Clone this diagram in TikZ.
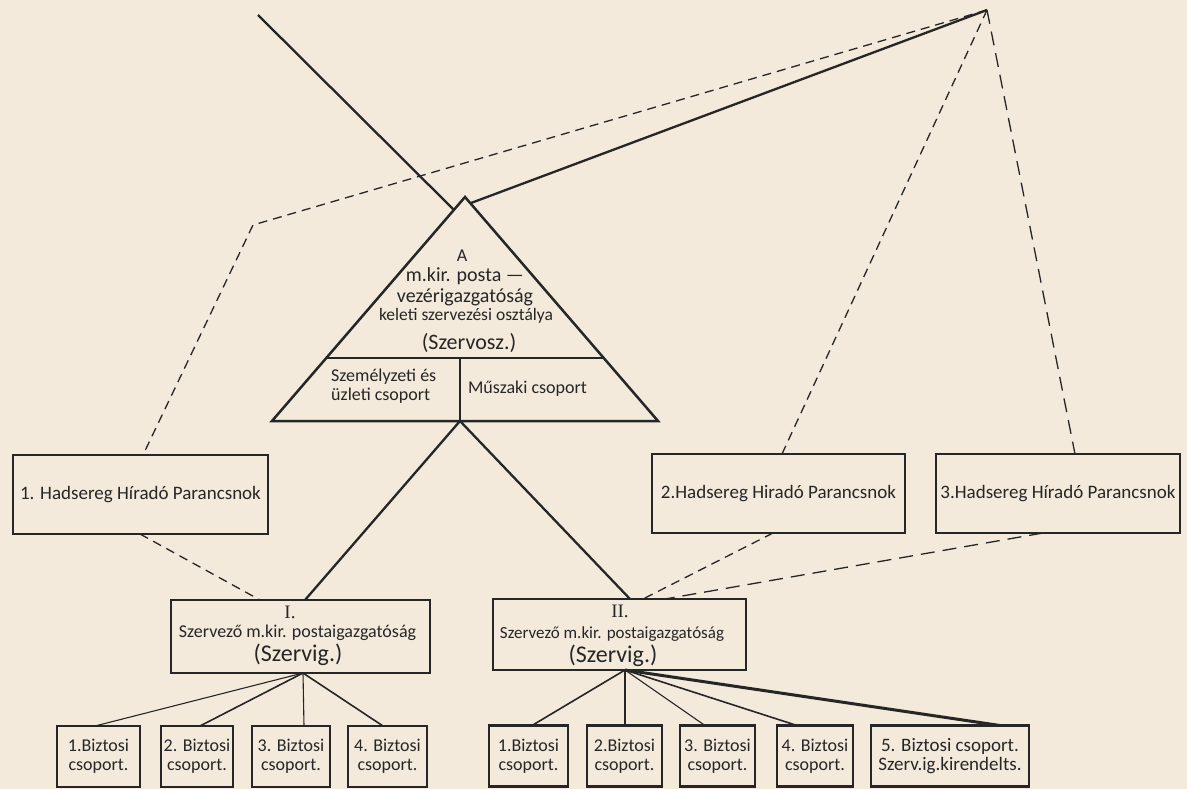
\documentclass[tikz,border=0pt]{standalone}
\usepackage{fontspec}
\setmainfont{Carlito}
\newfontfamily\romfont{Liberation Serif}
\usetikzlibrary{calc}
\definecolor{paper}{HTML}{F3EADC}
\definecolor{ink}{HTML}{262626}
\begin{document}
\begin{tikzpicture}[x=1pt,y=-1pt,
  box/.style={draw=ink, line width=2.6pt, inner sep=0pt, outer sep=0pt, text=ink},
  hq/.style={box, minimum height=79pt, font=\fontsize{19}{22}\selectfont},
  szbox/.style={box},
  kid/.style={box, line width=2.4pt, minimum height=61pt, align=center, font=\fontsize{18}{19}\selectfont},
  tri/.style={draw=ink, line width=2.5pt, line join=miter},
  solidline/.style={draw=ink, line width=2.3pt},
  medline/.style={draw=ink, line width=1.6pt},
  thinline/.style={draw=ink, line width=1.1pt},
  thickline/.style={draw=ink, line width=3pt},
  dashline/.style={draw=ink, line width=1.3pt, dash pattern=on 9pt off 6pt},
  longdash/.style={draw=ink, line width=1.3pt, dash pattern=on 14pt off 8pt},
  lbl/.style={text=ink, inner sep=0pt, anchor=base}
]
\fill[paper] (0,0) rectangle (1187,789);
\useasboundingbox (0,0) rectangle (1187,789);

% ---- top-level triangle
\coordinate (Ta) at (465,197);
\coordinate (Tl) at (272,421);
\coordinate (Tr) at (658,421);
\coordinate (Dl) at ($(Ta)!0.71875!(Tl)$);
\coordinate (Dr) at ($(Ta)!0.71875!(Tr)$);
\coordinate (Dm) at (460,358);
\coordinate (Tb) at (460,421);
\draw[tri] (Ta) -- (Tl) -- (Tr) -- cycle;
\draw[tri] (Dl) -- (Dr);
\draw[tri] (Dm) -- (Tb);

\node[lbl, font=\fontsize{18}{18}\selectfont] (tA) at (462,261) {A};
\node[lbl, font=\fontsize{20}{20}\selectfont] (tm) at (465,281) {m.kir. posta —};
\node[lbl, font=\fontsize{20}{20}\selectfont] (tv) at (465,302) {vezérigazgatóság};
\node[lbl, font=\fontsize{17.5}{18}\selectfont] (tk) at (466,320) {keleti szervezési osztálya};
\node[lbl, font=\fontsize{22}{22}\selectfont] (ts) at (469,349) {(Szervosz.)};
\node[lbl, anchor=base west, font=\fontsize{18}{18}\selectfont] (tsz1) at (331,381) {Személyzeti és};
\node[lbl, anchor=base west, font=\fontsize{18}{18}\selectfont] (tsz2) at (331,400) {üzleti csoport};
\node[lbl, font=\fontsize{18}{18}\selectfont] (tmu) at (527.5,393) {Műszaki csoport};

% ---- army signal commands
\node[hq, minimum width=255pt] (h1) at (140.5,494.5) {1. Hadsereg Híradó Parancsnok};
\node[hq, minimum width=253pt] (h2) at (778.5,493.5) {2.Hadsereg Hiradó Parancsnok};
\node[hq, minimum width=244pt] (h3) at (1058,493.5) {3.Hadsereg Híradó Parancsnok};

% ---- organising directorates
\node[szbox, minimum width=259pt, minimum height=73pt] (sI) at (300.5,636.5) {};
\node[lbl, font=\romfont\fontsize{19}{19}\selectfont] (sIn) at (290,618) {I.};
\node[lbl, font=\fontsize{18}{18}\selectfont] (sIa) at (297.5,637) {Szervező m.kir. postaigazgatóság};
\node[lbl, font=\fontsize{24}{24}\selectfont] (sIb) at (298,661) {(Szervig.)};

\node[szbox, minimum width=253pt, minimum height=71pt] (sII) at (619.5,634.5) {};
\node[lbl, font=\romfont\fontsize{19}{19}\selectfont] (sIIn) at (620,617) {II.};
\node[lbl, font=\fontsize{17}{17}\selectfont] (sIIa) at (612,638) {Szervező m.kir. postaigazgatóság};
\node[lbl, font=\fontsize{24}{24}\selectfont] (sIIb) at (613,662) {(Szervig.)};

% ---- commissioner groups
\node[kid, minimum width=83pt] (a1) at (98.5,756.5) {1.Biztosi\\csoport.};
\node[kid, minimum width=72pt] (a2) at (197,756.5) {2. Biztosi\\csoport.};
\node[kid, minimum width=78pt] (a3) at (291,756.5) {3. Biztosi\\csoport.};
\node[kid, minimum width=79pt] (a4) at (387.5,756.5) {4. Biztosi\\csoport.};

\node[kid, minimum width=79pt] (b1) at (528.5,756) {1.Biztosi\\csoport.};
\node[kid, minimum width=75pt] (b2) at (624.5,756) {2.Biztosi\\csoport.};
\node[kid, minimum width=75pt] (b3) at (717.5,756) {3. Biztosi\\csoport.};
\node[kid, minimum width=76pt] (b4) at (815,756) {4. Biztosi\\csoport.};
\node[kid, minimum width=158pt, font=\fontsize{19}{19}\selectfont] (b5) at (950,756) {5. Biztosi csoport.\\Szerv.ig.kirendelts.};

% ---- connectors at the top
\coordinate (P) at (987,10);
\coordinate (Q) at (253,225);
\coordinate (TL) at (258,15);
\coordinate (Tls) at (454,210);
\coordinate (Trs) at (471,203);
\draw[solidline] (TL) -- (Tls);
\draw[solidline] (P) -- (Trs);
\draw[dashline] (P) -- (Q) -- ([xshift=2.5pt]h1.north);
\draw[dashline] (P) -- ([xshift=3.5pt]h2.north);
\draw[longdash] (P) -- ([xshift=17pt]h3.north);

% ---- triangle to directorates
\draw[solidline] (Tb) -- ([xshift=4.5pt]sI.north);
\draw[solidline] (Tb) -- ([xshift=10.5pt]sII.north);
\draw[dashline] ([xshift=-0.5pt]h1.south) -- ([xshift=-40.5pt]sI.north);
\draw[dashline] ([xshift=-5.5pt]h2.south) -- ([xshift=23.5pt]sII.north);
\draw[longdash] ([xshift=-15pt]h3.south) -- ([xshift=45.5pt]sII.north);

% ---- directorates to groups
\draw[thinline] ([xshift=2.5pt]sI.south) -- ([xshift=-3.5pt]a1.north);
\draw[medline] ([xshift=2.5pt]sI.south) -- ([xshift=3pt]a2.north);
\draw[thinline] ([xshift=2.5pt]sI.south) -- ([xshift=13pt]a3.north);
\draw[medline] ([xshift=2.5pt]sI.south) -- ([xshift=-4.5pt]a4.north);

\draw[medline] ([xshift=5.5pt]sII.south) -- ([xshift=3.5pt]b1.north);
\draw[thinline] ([xshift=5.5pt]sII.south) -- ([xshift=0.5pt]b2.north);
\draw[thinline] ([xshift=5.5pt]sII.south) -- ([xshift=-12.5pt]b3.north);
\draw[medline] ([xshift=5.5pt]sII.south) -- ([xshift=-18pt]b4.north);
\draw[thickline] ([xshift=5.5pt]sII.south) -- ([xshift=50pt]b5.north);
\end{tikzpicture}
\end{document}
